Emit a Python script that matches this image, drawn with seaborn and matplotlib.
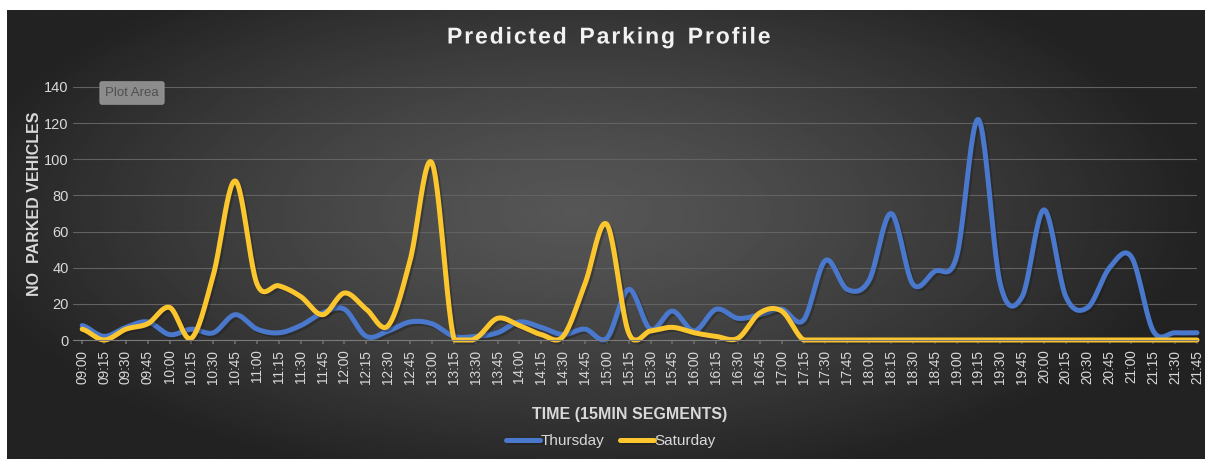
import numpy as np
import pandas as pd
import matplotlib
matplotlib.use("Agg")
import matplotlib.pyplot as plt
import matplotlib.patheffects as pe
import seaborn as sns

# 15 minute segments
times = [
    "09:00", "09:15", "09:30", "09:45", "10:00", "10:15", "10:30", "10:45",
    "11:00", "11:15", "11:30", "11:45", "12:00", "12:15", "12:30", "12:45",
    "13:00", "13:15", "13:30", "13:45", "14:00", "14:15", "14:30", "14:45",
    "15:00", "15:15", "15:30", "15:45", "16:00", "16:15", "16:30", "16:45",
    "17:00", "17:15", "17:30", "17:45", "18:00", "18:15", "18:30", "18:45",
    "19:00", "19:15", "19:30", "19:45", "20:00", "20:15", "20:30", "20:45",
    "21:00", "21:15", "21:30", "21:45",
]

thursday = [8, 2, 7, 10, 3, 6, 4, 14, 6, 4, 8, 15, 17, 2, 5, 10, 9, 2,
            2, 4, 10, 7, 3, 6, 1, 28, 6, 16, 5, 17, 12, 14, 17, 11, 44,
            28, 33, 70, 31, 38, 46, 122, 31, 24, 72, 24, 18, 40, 46, 5, 4, 4]

saturday = [6, 0, 6, 9, 18, 1, 36, 88, 31, 30, 24, 14, 26, 17, 8, 44, 98, 1,
            1, 12, 8, 3, 2, 31, 64, 4, 5, 7, 4, 2, 1, 15, 16, 0,
            0, 0, 0, 0, 0, 0, 0, 0, 0, 0, 0, 0, 0, 0, 0, 0, 0, 0]

colors = {"Thursday": "#4A78CC", "Saturday": "#FCC72E"}
TEXT = "#D9D9D9"


def smooth(y, n=24):
    """Catmull-Rom smoothing, like Excel's 'smoothed line'."""
    y = np.asarray(y, float)
    p = np.concatenate([[y[0]], y, [y[-1]]])
    t = np.linspace(0, 1, n, endpoint=False)
    xs, ys = [], []
    for i in range(len(y) - 1):
        p0, p1, p2, p3 = p[i], p[i + 1], p[i + 2], p[i + 3]
        seg = 0.5 * (2 * p1 + (-p0 + p2) * t
                     + (2 * p0 - 5 * p1 + 4 * p2 - p3) * t ** 2
                     + (-p0 + 3 * p1 - 3 * p2 + p3) * t ** 3)
        xs.append(i + t)
        ys.append(seg)
    xs.append([len(y) - 1])
    ys.append([y[-1]])
    return np.concatenate(xs), np.maximum(np.concatenate(ys), 0)


frames = []
for day, vals in [("Thursday", thursday), ("Saturday", saturday)]:
    sx, sy = smooth(vals)
    frames.append(pd.DataFrame({"slot": sx, "vehicles": sy, "day": day}))
df = pd.concat(frames, ignore_index=True)

sns.set_theme(style="dark")
plt.rcParams["font.family"] = ["Liberation Sans", "DejaVu Sans"]

W, H = 1205, 459
fig = plt.figure(figsize=(W / 100, H / 100), dpi=100, facecolor="white")

# dark radial gradient background
bg = fig.add_axes([7 / W, 0, 1 - 7 / W, 1 - 10 / H], zorder=-1)
gx, gy = np.meshgrid(np.linspace(-1, 1, 600), np.linspace(-1, 1, 240))
r = np.sqrt(((gx + 0.05) / 1.05) ** 2 + ((gy + 0.1) / 1.25) ** 2)
r = np.clip(r, 0, 1)
shade = (0x56 - (0x56 - 0x22) * r ** 1.3) / 255
bg.imshow(shade, cmap="gray", vmin=0, vmax=1, aspect="auto",
          extent=[0, 1, 0, 1], origin="upper", interpolation="bilinear")
bg.set_axis_off()

ax = fig.add_axes([73 / W, 1 - 340 / H, (1197 - 73) / W, (340 - 87) / H])
ax.set_facecolor("none")

sns.lineplot(data=df, x="slot", y="vehicles", hue="day", palette=colors,
             linewidth=3.6, ax=ax, legend=True, sort=False)
for line in ax.lines:
    line.set_path_effects([pe.SimpleLineShadow(offset=(1.5, -1.5), alpha=0.35),
                           pe.Normal()])
    line.set_solid_capstyle("round")
    line.set_clip_on(False)

ax.set_xlim(-0.42, 51.0)
ax.set_ylim(0, 140)
ax.set_yticks(range(0, 141, 20))
ax.set_xticks(range(len(times)))
ax.set_xticklabels(times, rotation=90, fontsize=9.8, color=TEXT)
ax.tick_params(axis="y", labelsize=10.5, labelcolor=TEXT, length=0, pad=3)
ax.tick_params(axis="x", length=3, color="#6a6a6a", pad=4, bottom=True,
               direction="out")
ax.grid(axis="y", color="#626262", linewidth=0.8)
ax.grid(axis="x", visible=False)
for side in ["top", "right", "left"]:
    ax.spines[side].set_visible(False)
ax.spines["bottom"].set_color("#7a7a7a")
ax.spines["bottom"].set_linewidth(0.8)

ax.set_xlabel("")
ax.set_ylabel("")
fig.text(35 / W, 1 - 204 / H, "NO  PARKED VEHICLES", rotation=90,
         ha="center", va="center", fontsize=11.5, fontweight="bold", color=TEXT)
fig.text(630 / W, 1 - 415 / H, "TIME (15MIN SEGMENTS)", ha="center",
         va="center", fontsize=11.5, fontweight="bold", color=TEXT)

title_text = "\u200a".join("Predicted Parking Profile").replace("\u200a \u200a", "  ")
title = fig.text(608 / W, 1 - 37 / H, title_text, ha="center", va="center",
                 fontsize=16.5, fontweight="bold", color="#F2F2F2")
title.set_path_effects([pe.SimpleLineShadow(offset=(1, -1.2), alpha=0.6),
                        pe.Normal()])

fig.text(132 / W, 1 - 93 / H, "Plot Area", ha="center", va="center",
         fontsize=9.5, color="#505050",
         bbox=dict(boxstyle="round,pad=0.4,rounding_size=0.15",
                   facecolor="#8c8c8c", edgecolor="#9a9a9a", linewidth=0.6))

handles, labels = ax.get_legend_handles_labels()
ax.legend_.remove()
leg = fig.legend(handles, labels, loc="center", ncol=2,
                 bbox_to_anchor=(611 / W, 1 - 441 / H), frameon=False,
                 fontsize=11, handlelength=2.2, handletextpad=0.05,
                 columnspacing=1.0, labelcolor=TEXT)
for h in leg.legend_handles:
    h.set_linewidth(3.6)

fig.savefig("out.png", dpi=100, facecolor="white")
